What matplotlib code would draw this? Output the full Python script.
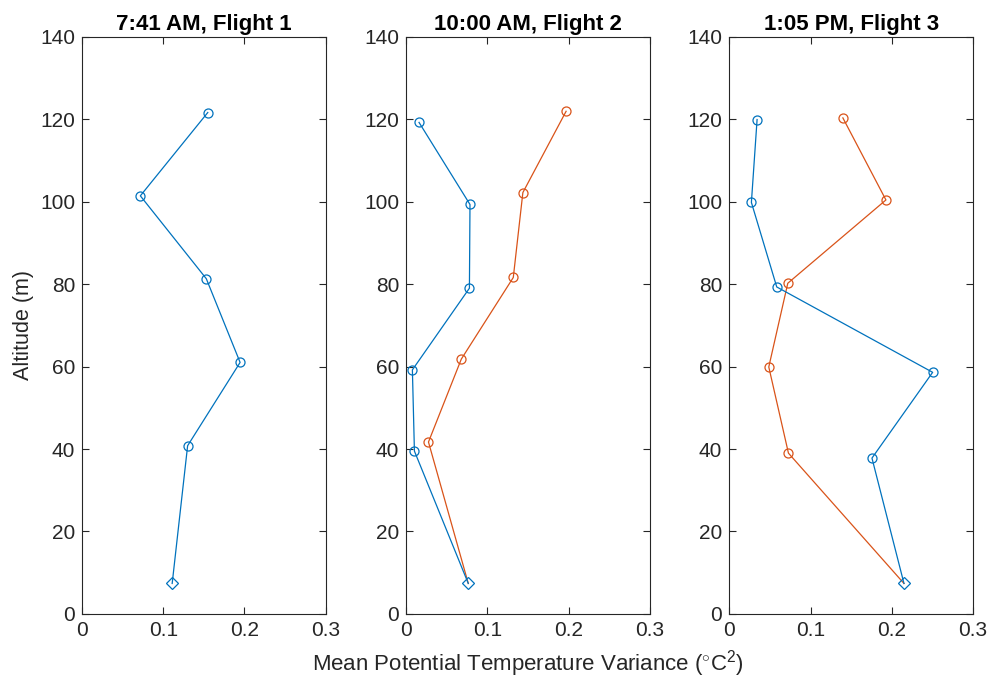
import numpy as np
import matplotlib.pyplot as plt

plt.rcParams['font.family'] = ['Liberation Sans', 'DejaVu Sans']
plt.rcParams['mathtext.fontset'] = 'custom'
plt.rcParams['mathtext.rm'] = 'Liberation Sans'

titles = ['7:41 AM, Flight 1', '10:00 AM, Flight 2', '1:05 PM, Flight 3']

# surface point (diamond) per flight
surf_var = [0.111, 0.0766, 0.215]
surf_alt = [7.4, 7.4, 7.4]

# blue profiles (bottom to top, above surface)
blue_var = [
    [0.130, 0.1946, 0.153, 0.0718, 0.1548],
    [0.0103, 0.0078, 0.078, 0.0787, 0.016],
    [0.1756, 0.2503, 0.0584, 0.0272, 0.0342],
]
blue_alt = [
    [40.8, 61.0, 81.3, 101.4, 121.6],
    [39.5, 59.2, 79.0, 99.3, 119.2],
    [37.8, 58.6, 79.3, 99.8, 119.9],
]

# orange profiles (flights 2 and 3)
orange_var = [
    None,
    [0.0276, 0.068, 0.132, 0.1438, 0.197],
    [0.0728, 0.0486, 0.072, 0.1928, 0.1398],
]
orange_alt = [
    None,
    [41.7, 61.8, 81.6, 102.2, 121.9],
    [39.0, 59.9, 80.2, 100.4, 120.3],
]

blue = '#0072BD'
orange = '#D95319'

fig = plt.figure(figsize=(9.94, 6.89), dpi=100)
lefts = [0.0825, 0.4085, 0.7337]
axs = []
for i in range(3):
    ax = fig.add_axes([lefts[i], 0.1089, 0.2452, 0.8379])
    axs.append(ax)
    if orange_var[i] is not None:
        ox = [surf_var[i]] + orange_var[i]
        oy = [surf_alt[i]] + orange_alt[i]
        ax.plot(ox, oy, color=orange, lw=0.9)
        ax.plot(orange_var[i], orange_alt[i], 'o', mfc='none', mec=orange, ms=6.5, mew=0.9)
    bx = [surf_var[i]] + blue_var[i]
    by = [surf_alt[i]] + blue_alt[i]
    ax.plot(bx, by, color=blue, lw=0.9)
    ax.plot(blue_var[i], blue_alt[i], 'o', mfc='none', mec=blue, ms=6.5, mew=0.9)
    ax.plot(surf_var[i], surf_alt[i], 'D', mfc='none', mec=blue, ms=6.5, mew=0.9)

    ax.set_xlim(0, 0.3)
    ax.set_ylim(0, 140)
    ax.set_xticks([0, 0.1, 0.2, 0.3])
    ax.set_xticklabels(['0', '0.1', '0.2', '0.3'])
    ax.set_yticks(np.arange(0, 141, 20))
    ax.tick_params(direction='in', top=True, right=True, labelsize=15,
                   length=5, width=0.8, colors='#262626', pad=5)
    for s in ax.spines.values():
        s.set_color('#262626')
        s.set_linewidth(0.8)
    ax.set_title(titles[i], fontsize=16, fontweight='bold', pad=5)

axs[0].set_ylabel('Altitude (m)', fontsize=15.5, color='#262626', labelpad=4)
axs[1].set_xlabel(r'Mean Potential Temperature Variance ($^{\circ}$C$^{2}$)',
                  fontsize=16, color='#262626', labelpad=6)

fig.savefig('out.png', dpi=100)
